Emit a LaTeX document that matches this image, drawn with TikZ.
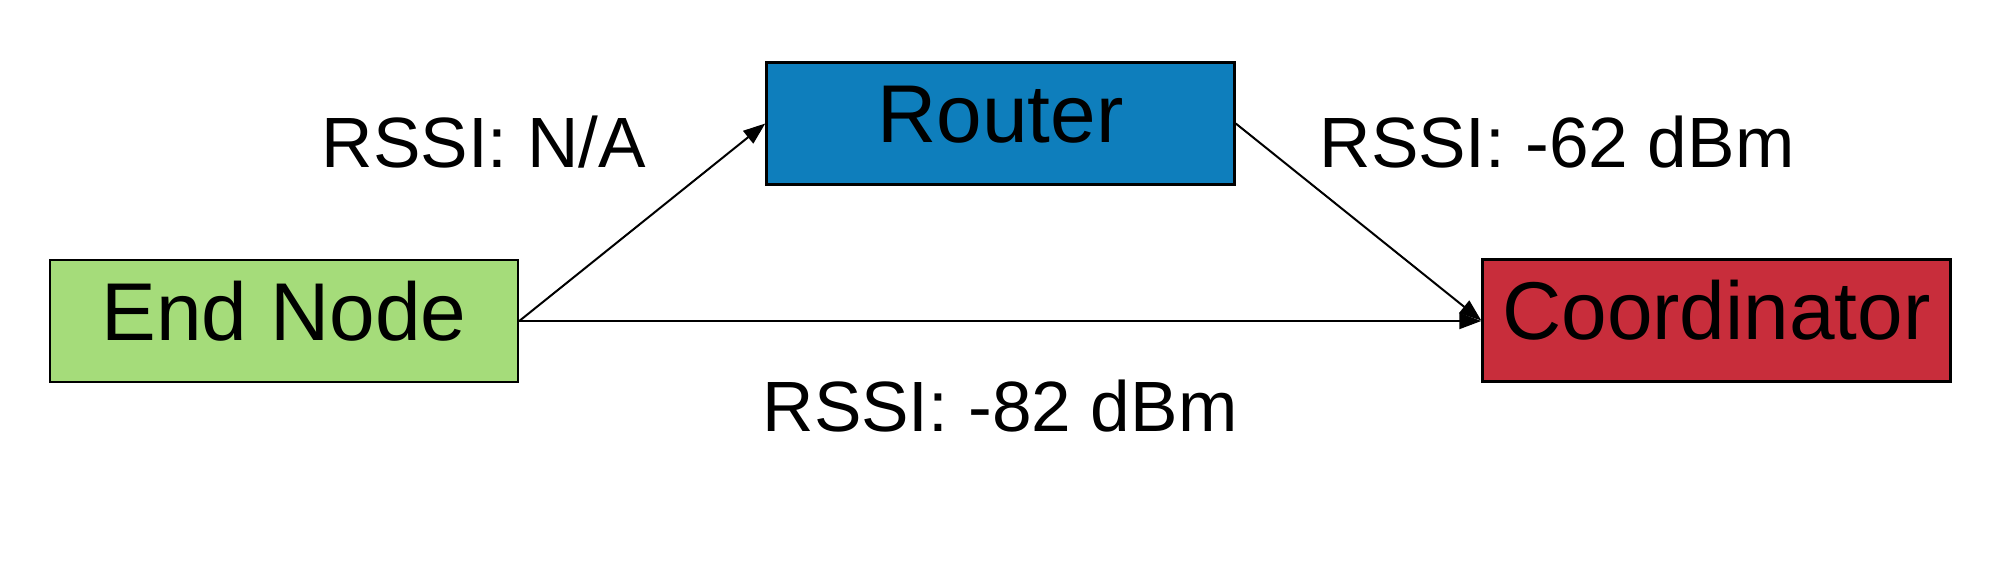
\documentclass[tikz,border=0pt]{standalone}
\usepackage{fontspec}
\setmainfont{Liberation Sans}
\usetikzlibrary{arrows.meta}
\definecolor{endgreen}{RGB}{165,220,122}
\definecolor{routerblue}{RGB}{14,126,188}
\definecolor{coordred}{RGB}{200,45,59}
\tikzset{
  box/.style={draw=black, line width=1.25pt, minimum width=234pt, minimum height=61pt,
    inner sep=0pt, text height=29.5pt, text depth=10.5pt,
    font=\fontsize{41}{49}\selectfont},
  lbl/.style={anchor=base, inner sep=0pt, font=\fontsize{35.6}{43}\selectfont},
  link/.style={line width=1pt, -{Triangle[length=11pt,width=8pt]}}
}
\begin{document}
\begin{tikzpicture}[x=0.5pt,y=-0.5pt]
\useasboundingbox (0,0) rectangle (2000,562);
\node[box, fill=endgreen] (end) at (284,321) {End Node};
\node[box, fill=routerblue] (router) at (1000.5,123.5) {Router};
\node[box, fill=coordred] (coord) at (1716.5,320.5) {Coordinator};
\node[lbl] (l1) at (484,167) {RSSI: N/A};
\node[lbl] (l2) at (1557,167) {RSSI: -62 dBm};
\node[lbl] (l3) at (1000,431) {RSSI: -82 dBm};
\draw[link] (end.east) -- (router.west);
\draw[link] (router.east) -- (coord.west);
\draw[link] (end.east) -- (coord.west |- end.east);
\end{tikzpicture}
\end{document}
